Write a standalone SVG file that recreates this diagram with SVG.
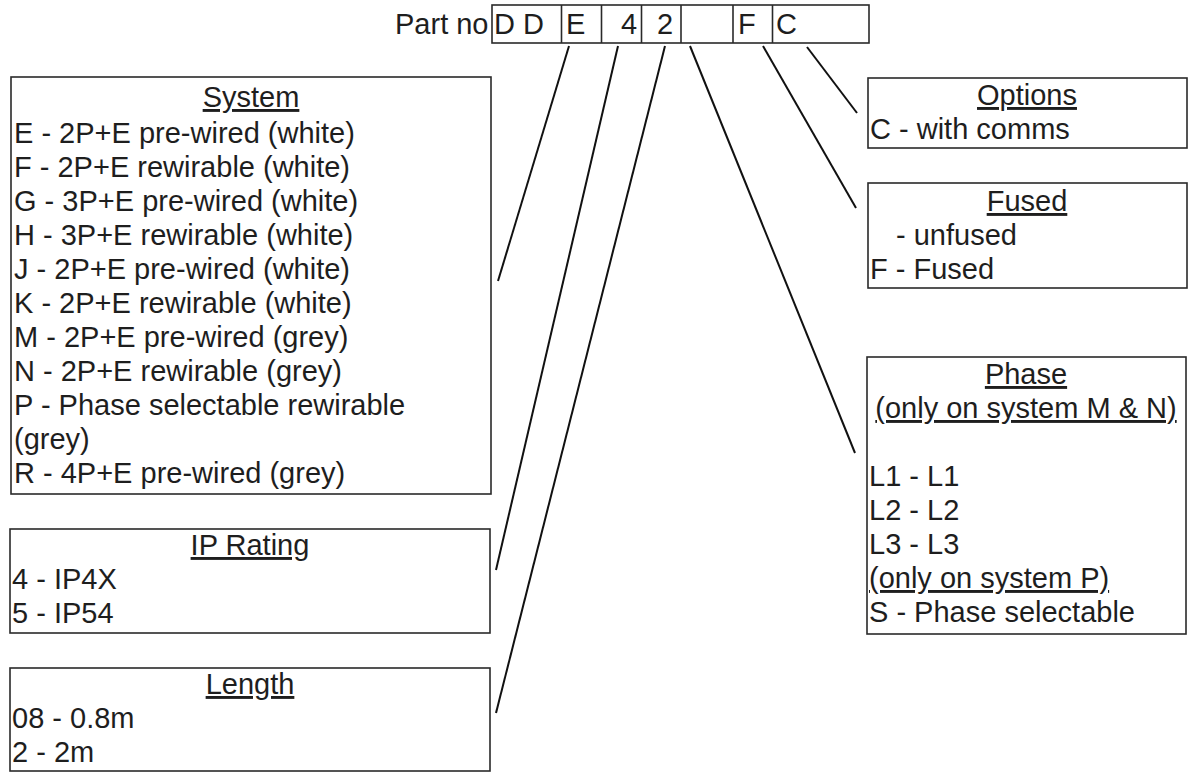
<svg xmlns="http://www.w3.org/2000/svg" width="1189" height="772" viewBox="0 0 1189 772">
<style>
text{font-family:"Liberation Sans",Arial,sans-serif;font-size:29px;fill:#1e1e1e}
.t{text-anchor:middle;text-decoration:underline}
.box{fill:none;stroke:#2a2a2a;stroke-width:1.6}
.con{stroke:#111;stroke-width:2;fill:none}
</style>
<rect width="1189" height="772" fill="#fff"/>
<g id="partno">
<text x="395" y="34">Part no</text>
<rect class="box" x="492" y="5" width="377" height="38"/>
<line class="box" x1="561.5" y1="5" x2="561.5" y2="43"/>
<line class="box" x1="601.5" y1="5" x2="601.5" y2="43"/>
<line class="box" x1="641.5" y1="5" x2="641.5" y2="43"/>
<line class="box" x1="681" y1="5" x2="681" y2="43"/>
<line class="box" x1="733" y1="5" x2="733" y2="43"/>
<line class="box" x1="772.5" y1="5" x2="772.5" y2="43"/>
<text x="494" y="34">D D</text>
<text x="566" y="34">E</text>
<text x="621" y="34">4</text>
<text x="657" y="34">2</text>
<text x="738" y="34">F</text>
<text x="776" y="34">C</text>
</g>
<g id="system">
<rect class="box" x="11" y="77" width="480" height="417"/>
<text class="t" x="251" y="107">System</text>
<text x="14" y="143">E - 2P+E pre-wired (white)</text>
<text x="14" y="177">F - 2P+E rewirable (white)</text>
<text x="14" y="211">G - 3P+E pre-wired (white)</text>
<text x="14" y="245">H - 3P+E rewirable (white)</text>
<text x="14" y="279">J - 2P+E pre-wired (white)</text>
<text x="14" y="313">K - 2P+E rewirable (white)</text>
<text x="14" y="347">M - 2P+E pre-wired (grey)</text>
<text x="14" y="381">N - 2P+E rewirable (grey)</text>
<text x="14" y="415">P - Phase selectable rewirable</text>
<text x="14" y="449">(grey)</text>
<text x="14" y="483">R - 4P+E pre-wired (grey)</text>
</g>
<g id="iprating">
<rect class="box" x="10" y="529" width="480" height="104"/>
<text class="t" x="250" y="555">IP Rating</text>
<text x="12" y="589">4 - IP4X</text>
<text x="12" y="623">5 - IP54</text>
</g>
<g id="length">
<rect class="box" x="10" y="668" width="480" height="103"/>
<text class="t" x="250" y="694">Length</text>
<text x="12" y="728">08 - 0.8m</text>
<text x="12" y="762">2 - 2m</text>
</g>
<g id="options">
<rect class="box" x="868" y="78" width="319" height="70"/>
<text class="t" x="1027" y="105">Options</text>
<text x="870" y="139">C - with comms</text>
</g>
<g id="fused">
<rect class="box" x="868" y="183" width="319" height="105"/>
<text class="t" x="1027" y="211">Fused</text>
<text x="896" y="245">- unfused</text>
<text x="870" y="279">F - Fused</text>
</g>
<g id="phase">
<rect class="box" x="867" y="357" width="319" height="277"/>
<text class="t" x="1026" y="384">Phase</text>
<text class="t" x="1026" y="418">(only on system M &amp; N)</text>
<text x="869" y="486">L1 - L1</text>
<text x="869" y="520">L2 - L2</text>
<text x="869" y="554">L3 - L3</text>
<text x="869" y="588" text-decoration="underline">(only on system P)</text>
<text x="869" y="622">S - Phase selectable</text>
</g>
<g id="connectors">
<line class="con" x1="569" y1="46" x2="498" y2="281"/>
<line class="con" x1="618" y1="46" x2="496" y2="570"/>
<line class="con" x1="665" y1="46" x2="496" y2="713"/>
<line class="con" x1="690" y1="46" x2="855" y2="453"/>
<line class="con" x1="763" y1="46" x2="856" y2="208"/>
<line class="con" x1="807" y1="47" x2="857" y2="113"/>
</g>
</svg>
